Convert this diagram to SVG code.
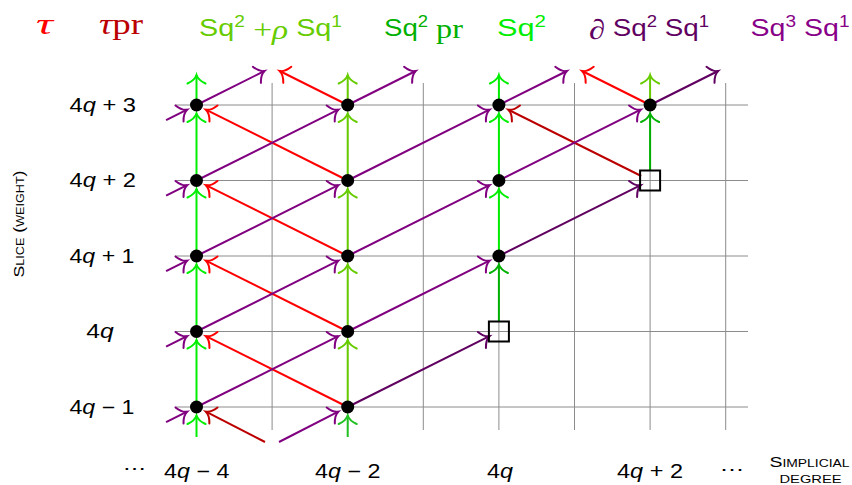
<svg xmlns="http://www.w3.org/2000/svg" width="852" height="485" viewBox="0 0 852 485">
<style>
  .sans { font-family: "Liberation Sans", Arial, sans-serif; }
  .serif { font-family: "Liberation Serif", "DejaVu Serif", serif; }
  .it { font-style: italic; }
  .lbl { font-family: "Liberation Sans", Arial, sans-serif; font-size: 19.5px; fill: #000; }
  .sc { font-family: "Liberation Sans", Arial, sans-serif; font-size: 14px; font-variant: small-caps; fill: #000; }
  .grid line { stroke: #8c8c8c; stroke-width: 1; }
  .c { fill: none; stroke-width: 2; }
  .g { stroke: #00ee00; marker-end: url(#m-g); }
  .yg { stroke: #66cc00; marker-end: url(#m-yg); }
  .dg { stroke: #00b000; marker-end: url(#m-dg); }
  .mg { stroke: #22c022; marker-end: url(#m-mg); }
  .r { stroke: #ff0000; marker-end: url(#m-r); }
  .dr { stroke: #bb0000; marker-end: url(#m-dr); }
  .p { stroke: #800080; marker-end: url(#m-p); }
  .dp { stroke: #600060; marker-end: url(#m-dp); }
  .dot { fill: #000; }
  .sq { fill: none; stroke: #000; stroke-width: 2; }
  .head { fill: none; stroke-width: 2; stroke-linecap: round; }
</style>
<defs>
  <marker id="m-g" markerUnits="userSpaceOnUse" viewBox="-12 -12 24 24" markerWidth="24" markerHeight="24" refX="0" refY="0" orient="auto" overflow="visible"><path class="head" stroke="#00ee00" d="M-8.5,-9 Q-5,-1.5 0,0 Q-5,1.5 -8.5,9"/></marker>
  <marker id="m-yg" markerUnits="userSpaceOnUse" viewBox="-12 -12 24 24" markerWidth="24" markerHeight="24" refX="0" refY="0" orient="auto" overflow="visible"><path class="head" stroke="#66cc00" d="M-8.5,-9 Q-5,-1.5 0,0 Q-5,1.5 -8.5,9"/></marker>
  <marker id="m-dg" markerUnits="userSpaceOnUse" viewBox="-12 -12 24 24" markerWidth="24" markerHeight="24" refX="0" refY="0" orient="auto" overflow="visible"><path class="head" stroke="#00b000" d="M-8.5,-9 Q-5,-1.5 0,0 Q-5,1.5 -8.5,9"/></marker>
  <marker id="m-mg" markerUnits="userSpaceOnUse" viewBox="-12 -12 24 24" markerWidth="24" markerHeight="24" refX="0" refY="0" orient="auto" overflow="visible"><path class="head" stroke="#22c022" d="M-8.5,-9 Q-5,-1.5 0,0 Q-5,1.5 -8.5,9"/></marker>
  <marker id="m-r" markerUnits="userSpaceOnUse" viewBox="-12 -12 24 24" markerWidth="24" markerHeight="24" refX="0" refY="0" orient="auto" overflow="visible"><path class="head" stroke="#ff0000" d="M-8.5,-9 Q-5,-1.5 0,0 Q-5,1.5 -8.5,9"/></marker>
  <marker id="m-dr" markerUnits="userSpaceOnUse" viewBox="-12 -12 24 24" markerWidth="24" markerHeight="24" refX="0" refY="0" orient="auto" overflow="visible"><path class="head" stroke="#bb0000" d="M-8.5,-9 Q-5,-1.5 0,0 Q-5,1.5 -8.5,9"/></marker>
  <marker id="m-p" markerUnits="userSpaceOnUse" viewBox="-12 -12 24 24" markerWidth="24" markerHeight="24" refX="0" refY="0" orient="auto" overflow="visible"><path class="head" stroke="#800080" d="M-8.5,-9 Q-5,-1.5 0,0 Q-5,1.5 -8.5,9"/></marker>
  <marker id="m-dp" markerUnits="userSpaceOnUse" viewBox="-12 -12 24 24" markerWidth="24" markerHeight="24" refX="0" refY="0" orient="auto" overflow="visible"><path class="head" stroke="#600060" d="M-8.5,-9 Q-5,-1.5 0,0 Q-5,1.5 -8.5,9"/></marker>
</defs>

<!-- legend -->
<g id="legend">
  <text class="serif it" x="36" y="33.5" font-size="30" fill="#ff0000" textLength="17" lengthAdjust="spacingAndGlyphs">τ</text>
  <text class="serif" x="99" y="33.5" font-size="30" fill="#bb0000" textLength="44" lengthAdjust="spacingAndGlyphs"><tspan class="it">τ</tspan>pr</text>
  <text class="sans" x="199" y="36" font-size="24" fill="#66cc00" textLength="143" lengthAdjust="spacingAndGlyphs">Sq<tspan font-size="16" dy="-9.5">2</tspan><tspan class="serif" font-size="28" dy="12"> +</tspan><tspan class="serif it" font-size="28">ρ</tspan><tspan dy="-2.5"> Sq</tspan><tspan font-size="16" dy="-9.5">1</tspan></text>
  <text class="sans" x="384" y="36" font-size="24" fill="#00b000" textLength="79" lengthAdjust="spacingAndGlyphs">Sq<tspan font-size="16" dy="-9.5">2</tspan><tspan class="serif" font-size="28" dy="11.8"> pr</tspan></text>
  <text class="sans" x="497" y="36" font-size="24" fill="#00ee00" textLength="49" lengthAdjust="spacingAndGlyphs">Sq<tspan font-size="16" dy="-9.5">2</tspan></text>
  <text class="sans" x="589" y="39" font-size="24" fill="#600060" textLength="120" lengthAdjust="spacingAndGlyphs"><tspan class="serif it" font-size="28">∂</tspan><tspan dy="-3"> Sq</tspan><tspan font-size="16" dy="-9.5">2</tspan><tspan dy="9.5"> Sq</tspan><tspan font-size="16" dy="-9.5">1</tspan></text>
  <text class="sans" x="750.5" y="36" font-size="24" fill="#880088" textLength="99" lengthAdjust="spacingAndGlyphs">Sq<tspan font-size="16" dy="-9.5">3</tspan><tspan dy="9.5"> Sq</tspan><tspan font-size="16" dy="-9.5">1</tspan></text>
</g>

<!-- axis labels -->
<g id="axes">
  <text class="sc" transform="translate(24,277.5) rotate(-90)" textLength="107" lengthAdjust="spacingAndGlyphs">Slice (weight)</text>
  <text class="lbl" x="69.5" y="112" textLength="66.5" lengthAdjust="spacingAndGlyphs">4<tspan class="it">q</tspan> + 3</text>
  <text class="lbl" x="69.5" y="187.3" textLength="66.5" lengthAdjust="spacingAndGlyphs">4<tspan class="it">q</tspan> + 2</text>
  <text class="lbl" x="69.5" y="262.6" textLength="65" lengthAdjust="spacingAndGlyphs">4<tspan class="it">q</tspan> + 1</text>
  <text class="lbl" x="86.3" y="338" textLength="27.5" lengthAdjust="spacingAndGlyphs">4<tspan class="it">q</tspan></text>
  <text class="lbl" x="69.5" y="413.5" textLength="65" lengthAdjust="spacingAndGlyphs">4<tspan class="it">q</tspan> − 1</text>
  <text class="lbl" x="122.5" y="475" font-family="DejaVu Sans, sans-serif" textLength="23" lengthAdjust="spacingAndGlyphs">⋯</text>
  <text class="lbl" x="164" y="478.3" textLength="65.5" lengthAdjust="spacingAndGlyphs">4<tspan class="it">q</tspan> − 4</text>
  <text class="lbl" x="315" y="478.3" textLength="65.5" lengthAdjust="spacingAndGlyphs">4<tspan class="it">q</tspan> − 2</text>
  <text class="lbl" x="487" y="478.3" textLength="26" lengthAdjust="spacingAndGlyphs">4<tspan class="it">q</tspan></text>
  <text class="lbl" x="617" y="478.3" textLength="66" lengthAdjust="spacingAndGlyphs">4<tspan class="it">q</tspan> + 2</text>
  <text class="lbl" x="719.5" y="476" font-family="DejaVu Sans, sans-serif" textLength="24" lengthAdjust="spacingAndGlyphs">⋯</text>
  <text class="sc" x="769.5" y="466.5" textLength="80" lengthAdjust="spacingAndGlyphs">Simplicial</text>
  <text class="sc" x="779.5" y="483" textLength="62" lengthAdjust="spacingAndGlyphs">degree</text>
</g>

<!-- grid -->
<g class="grid" id="grid">
  <line x1="175" y1="105" x2="748" y2="105"/>
  <line x1="175" y1="180.5" x2="748" y2="180.5"/>
  <line x1="175" y1="256" x2="748" y2="256"/>
  <line x1="175" y1="331.5" x2="748" y2="331.5"/>
  <line x1="175" y1="407" x2="748" y2="407"/>
  <line x1="196.5" y1="83" x2="196.5" y2="430"/>
  <line x1="272.1" y1="83" x2="272.1" y2="430"/>
  <line x1="347.7" y1="83" x2="347.7" y2="430"/>
  <line x1="423.3" y1="83" x2="423.3" y2="430"/>
  <line x1="498.9" y1="83" x2="498.9" y2="430"/>
  <line x1="574.5" y1="83" x2="574.5" y2="430"/>
  <line x1="650.1" y1="83" x2="650.1" y2="430"/>
  <line x1="725.7" y1="83" x2="725.7" y2="430"/>
</g>

<!-- connectors -->
<g id="connectors">
  <!-- green, column 4q-4 -->
  <line class="c g" x1="196.5" y1="437" x2="196.5" y2="415.5"/>
  <line class="c g" x1="196.5" y1="407" x2="196.5" y2="340"/>
  <line class="c g" x1="196.5" y1="331.5" x2="196.5" y2="264.5"/>
  <line class="c g" x1="196.5" y1="256" x2="196.5" y2="189"/>
  <line class="c g" x1="196.5" y1="180.5" x2="196.5" y2="113.5"/>
  <line class="c g" x1="196.5" y1="105" x2="196.5" y2="75"/>
  <!-- green, column 4q-2 -->
  <line class="c mg" x1="347.7" y1="437" x2="347.7" y2="415.5"/>
  <line class="c yg" x1="347.7" y1="407" x2="347.7" y2="340"/>
  <line class="c yg" x1="347.7" y1="331.5" x2="347.7" y2="264.5"/>
  <line class="c yg" x1="347.7" y1="256" x2="347.7" y2="189"/>
  <line class="c yg" x1="347.7" y1="180.5" x2="347.7" y2="113.5"/>
  <line class="c yg" x1="347.7" y1="105" x2="347.7" y2="75"/>
  <!-- green, column 4q -->
  <line class="c dg" x1="498.9" y1="321.5" x2="498.9" y2="264.5"/>
  <line class="c g" x1="498.9" y1="256" x2="498.9" y2="189"/>
  <line class="c g" x1="498.9" y1="180.5" x2="498.9" y2="113.5"/>
  <line class="c g" x1="498.9" y1="105" x2="498.9" y2="75"/>
  <!-- green, column 4q+2 -->
  <line class="c dg" x1="650.1" y1="170.5" x2="650.1" y2="113.5"/>
  <line class="c yg" x1="650.1" y1="105" x2="650.1" y2="75"/>

  <!-- red (tau) -->
  <line class="c r" x1="347.7" y1="180.5" x2="205.9" y2="109.7"/>
  <line class="c r" x1="347.7" y1="256" x2="205.9" y2="185.2"/>
  <line class="c r" x1="347.7" y1="331.5" x2="205.9" y2="260.7"/>
  <line class="c r" x1="347.7" y1="407" x2="205.9" y2="336.2"/>
  <line class="c r" x1="347.7" y1="105" x2="279.7" y2="71"/>
  <line class="c r" x1="650.1" y1="105" x2="582.1" y2="71"/>
  <!-- dark red (tau pr) -->
  <line class="c dr" x1="265" y1="442" x2="205.9" y2="411.7"/>
  <line class="c dr" x1="641.2" y1="176" x2="508.3" y2="109.7"/>

  <!-- purple (Sq3 Sq1) -->
  <line class="c p" x1="166.1" y1="120.2" x2="187.1" y2="109.7"/>
  <line class="c p" x1="166.1" y1="195.7" x2="187.1" y2="185.2"/>
  <line class="c p" x1="166.1" y1="271.2" x2="187.1" y2="260.7"/>
  <line class="c p" x1="166.1" y1="346.7" x2="187.1" y2="336.2"/>
  <line class="c p" x1="166.1" y1="422.2" x2="187.1" y2="411.7"/>
  <line class="c p" x1="279" y1="442" x2="338.3" y2="411.7"/>
  <line class="c p" x1="196.5" y1="105" x2="264.5" y2="71"/>
  <line class="c p" x1="196.5" y1="180.5" x2="338.3" y2="109.7"/>
  <line class="c p" x1="196.5" y1="256" x2="338.3" y2="185.2"/>
  <line class="c p" x1="196.5" y1="331.5" x2="338.3" y2="260.7"/>
  <line class="c p" x1="196.5" y1="407" x2="338.3" y2="336.2"/>
  <line class="c p" x1="347.7" y1="105" x2="415.7" y2="71"/>
  <line class="c p" x1="347.7" y1="180.5" x2="489.5" y2="109.7"/>
  <line class="c p" x1="347.7" y1="256" x2="489.5" y2="185.2"/>
  <line class="c p" x1="347.7" y1="331.5" x2="489.5" y2="260.7"/>
  <line class="c p" x1="498.9" y1="105" x2="566.9" y2="71"/>
  <line class="c p" x1="498.9" y1="180.5" x2="640.7" y2="109.7"/>
  <!-- dark purple (d Sq2 Sq1) -->
  <line class="c dp" x1="347.7" y1="407" x2="489.5" y2="336.2"/>
  <line class="c dp" x1="498.9" y1="256" x2="640.7" y2="185.2"/>
  <line class="c dp" x1="650.1" y1="105" x2="718.1" y2="71"/>
</g>

<!-- nodes -->
<g id="nodes">
  <g id="n-4q-4-w3"><circle class="dot" cx="196.5" cy="105" r="6.5"/></g>
  <g id="n-4q-4-w2"><circle class="dot" cx="196.5" cy="180.5" r="6.5"/></g>
  <g id="n-4q-4-w1"><circle class="dot" cx="196.5" cy="256" r="6.5"/></g>
  <g id="n-4q-4-w0"><circle class="dot" cx="196.5" cy="331.5" r="6.5"/></g>
  <g id="n-4q-4-wm1"><circle class="dot" cx="196.5" cy="407" r="6.5"/></g>
  <g id="n-4q-2-w3"><circle class="dot" cx="347.7" cy="105" r="6.5"/></g>
  <g id="n-4q-2-w2"><circle class="dot" cx="347.7" cy="180.5" r="6.5"/></g>
  <g id="n-4q-2-w1"><circle class="dot" cx="347.7" cy="256" r="6.5"/></g>
  <g id="n-4q-2-w0"><circle class="dot" cx="347.7" cy="331.5" r="6.5"/></g>
  <g id="n-4q-2-wm1"><circle class="dot" cx="347.7" cy="407" r="6.5"/></g>
  <g id="n-4q-w3"><circle class="dot" cx="498.9" cy="105" r="6.5"/></g>
  <g id="n-4q-w2"><circle class="dot" cx="498.9" cy="180.5" r="6.5"/></g>
  <g id="n-4q-w1"><circle class="dot" cx="498.9" cy="256" r="6.5"/></g>
  <g id="n-4q-w0"><rect class="sq" x="488.9" y="321.5" width="20" height="20"/></g>
  <g id="n-4q+2-w3"><circle class="dot" cx="650.1" cy="105" r="6.5"/></g>
  <g id="n-4q+2-w2"><rect class="sq" x="640.1" y="170.5" width="20" height="20"/></g>
</g>
</svg>
